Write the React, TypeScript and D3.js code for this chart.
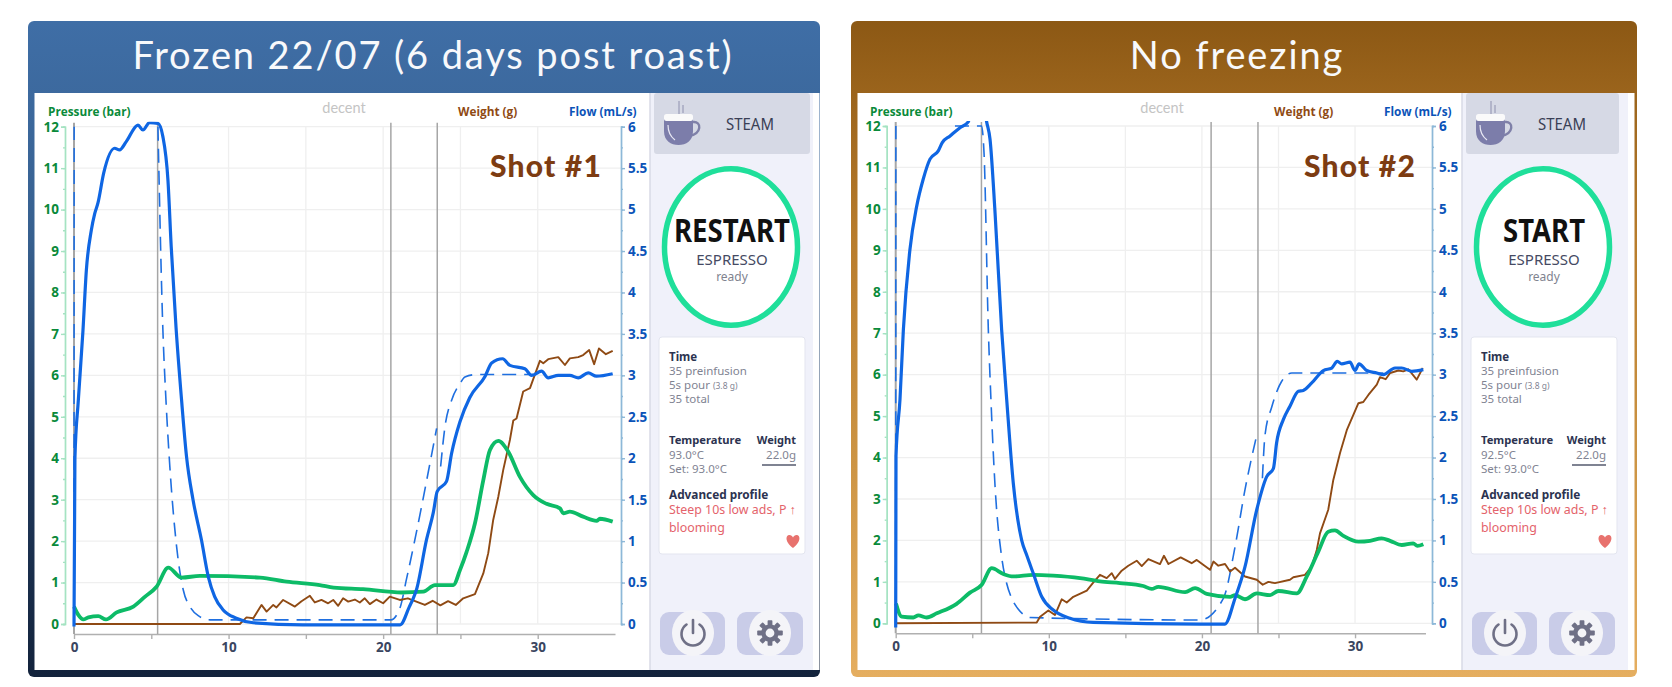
import * as d3 from 'd3';
import React, { useEffect, useRef } from 'react';

type Pt = [number, number | null];

const pressureTicks = d3.range(0, 13);
const flowTicks = d3.range(0, 6.5, 0.5);
const timeLabels = [0, 10, 20, 30];
const timeTicks = [0, 5, 10, 15, 20, 25, 30];
const timeGrid = [10, 15, 20, 25, 30];

const flow1: Pt[] = [[0,-0.03],[0.06,2],[0.28,2.7],[0.58,3.54],[0.8,4.27],[1.12,4.75],[1.34,4.95],[1.55,5.08],[1.92,5.44],[2.63,5.74],[2.95,5.72],[3.38,5.82],[4.14,6.02],[4.46,5.96],[4.89,6.05],[5.43,6.04],[5.75,5.88],[6.08,5.35],[6.29,4.55],[6.6,3.58],[6.96,2.7],[7.28,2.02],[7.7,1.5],[8.25,1.01],[8.69,0.57],[9.1,0.33],[9.65,0.17],[10.5,0.07],[11.6,0.015],[14.8,-0.01],[21.1,-0.01],[21.7,0.21],[21.95,0.31],[22.15,0.41],[22.81,1.02],[23.24,1.34],[23.5,1.6],[24.1,1.72],[24.43,2.06],[24.97,2.44],[25.6,2.73],[26.6,2.99],[27.02,3.15],[27.73,3.2],[28.2,3.12],[29.17,3.08],[29.6,3.0],[30.25,3.05],[30.68,2.97],[31.33,3.0],[32.08,3.0],[32.62,2.97],[33.27,3.03],[33.8,2.99],[34.85,3.02]];
const goal1: Pt[] = [[0,0],[0.01,6],[0.02,null],[5.43,6],[5.75,3.55],[5.95,2.7],[6.2,1.9],[6.64,0.93],[7.07,0.41],[7.5,0.21],[8.04,0.1],[8.8,0.05],[11.6,0.05],[20.5,0.05],[21.08,0.19],[21.52,0.55],[23.46,2.36],[23.47,null],[23.72,1.9],[24,2.38],[24.43,2.7],[24.97,2.9],[25.29,2.98],[26.05,3.01],[29.71,3.01]];
const pressure1: Pt[] = [[0,0.42],[0.28,0.22],[0.6,0.11],[0.93,0.16],[1.57,0.19],[2.07,0.11],[2.76,0.28],[3.84,0.42],[4.6,0.66],[5.34,0.9],[6.1,1.36],[6.96,1.12],[8.15,1.16],[12.03,1.12],[13.75,1.02],[15.9,0.94],[16.8,0.88],[18.7,0.84],[21.2,0.76],[22.6,0.78],[23.35,0.94],[24.54,0.94],[24.97,1.3],[25.4,1.74],[25.94,2.43],[26.48,3.47],[26.91,4.2],[27.45,4.42],[28.09,4.16],[28.85,3.55],[29.71,3.11],[30.57,2.9],[31.44,2.79],[31.65,2.67],[32.08,2.71],[32.94,2.59],[33.81,2.49],[34.02,2.54],[34.85,2.47]];
// weight has no axis of its own, values are read against the pressure scale
const weight1: Pt[] = [[0,0],[10.73,0],[11.16,0.16],[11.6,0.14],[12.13,0.46],[12.46,0.3],[12.89,0.46],[13.1,0.4],[13.53,0.58],[14.29,0.42],[14.72,0.55],[15.26,0.68],[15.58,0.52],[16.01,0.58],[16.44,0.5],[16.77,0.58],[17.09,0.44],[17.41,0.62],[17.74,0.54],[18.17,0.59],[18.49,0.52],[18.81,0.62],[19.14,0.48],[19.57,0.59],[20,0.5],[20.43,0.66],[21.08,0.58],[21.6,0.62],[22.15,0.54],[22.7,0.46],[23.2,0.56],[23.7,0.45],[24.2,0.55],[24.7,0.46],[25.18,0.62],[25.94,0.72],[26.48,1.22],[26.8,1.71],[27.12,2.51],[27.45,3.07],[27.77,3.72],[28.2,4.44],[28.42,4.91],[28.63,4.96],[29.06,5.61],[29.5,5.69],[30.14,6.35],[30.36,6.29],[30.68,6.39],[31.33,6.44],[31.76,6.25],[32.08,6.41],[32.62,6.44],[32.94,6.49],[33.33,6.61],[33.65,6.27],[33.96,6.65],[34.41,6.51],[34.85,6.59]];

const flow2: Pt[] = [[0,-0.05],[0.02,2.02],[0.28,2.7],[0.5,3.54],[0.93,4.51],[1.37,5.03],[1.8,5.36],[2.24,5.6],[2.78,5.7],[3.04,5.8],[3.55,5.88],[4.2,5.98],[4.74,6.05],[5.2,6.4],[5.6,6.4],[5.94,6.05],[6.16,5.84],[6.49,4.95],[6.92,3.54],[7.25,2.7],[7.68,1.69],[8.23,1.0],[8.56,0.82],[8.99,0.6],[9.54,0.32],[10.29,0.16],[11.38,0.06],[12.9,0.01],[19.88,-0.01],[21.5,-0.01],[22.16,0.3],[22.81,0.68],[23.58,1.37],[24.23,1.77],[24.67,1.87],[24.88,2.18],[25.32,2.46],[25.75,2.62],[26.3,2.8],[26.62,2.81],[27.17,2.9],[27.93,3.05],[28.48,3.08],[28.84,3.16],[29.13,3.13],[29.67,3.15],[30,3.05],[30.26,3.13],[30.76,3.05],[31.42,3.02],[31.85,3.0],[32.61,3.08],[33.05,3.08],[33.7,3.04],[34.46,3.06]];
const goal2: Pt[] = [[0,0],[0.01,6],[0.02,null],[3.87,6],[5.6,6],[5.77,5.67],[6.05,3.54],[6.22,2.7],[6.49,1.65],[6.92,0.8],[7.25,0.48],[7.58,0.3],[8.01,0.17],[8.77,0.07],[19.88,0.04],[21.4,0.3],[22.16,0.92],[22.81,1.61],[23.58,2.27],[23.59,null],[23.95,1.75],[24.12,2.27],[24.56,2.61],[25.21,2.92],[25.87,3.02],[31.85,3.02]];
const pressure2: Pt[] = [[0.02,0.48],[0.39,0.16],[1.15,0.14],[1.48,0.19],[2.02,0.14],[2.68,0.24],[3.98,0.47],[4.85,0.74],[5.62,0.93],[6.27,1.33],[7.03,1.19],[7.68,1.13],[8.99,1.17],[10.29,1.15],[12.04,1.09],[13.34,1.01],[14.65,0.97],[16.17,0.9],[16.72,0.83],[17.15,0.88],[18.9,0.75],[19.55,0.85],[20.31,0.71],[21.84,0.64],[22.16,0.68],[22.81,0.58],[23.58,0.72],[24.45,0.68],[24.99,0.78],[26.19,0.72],[26.85,1.13],[27.6,1.73],[28.25,2.21],[28.69,2.24],[29.24,2.11],[30.22,1.97],[30.98,1.99],[31.74,2.05],[32.29,1.99],[33.05,1.89],[33.8,1.93],[34.07,1.87],[34.46,1.91]];
const weight2: Pt[] = [[0,0],[9.21,0.02],[9.43,0.16],[9.97,0.31],[10.4,0.2],[10.84,0.58],[11.17,0.5],[11.6,0.64],[12.48,0.79],[12.9,0.98],[13.34,1.17],[13.78,1.09],[14.11,1.21],[14.32,1.07],[14.76,1.27],[15.19,1.39],[15.74,1.51],[16.07,1.38],[16.5,1.55],[17.26,1.43],[17.52,1.63],[17.81,1.43],[18.61,1.59],[19.33,1.45],[19.66,1.53],[20.53,1.29],[20.75,1.49],[21.07,1.39],[21.51,1.43],[21.84,1.25],[22.16,1.34],[22.81,1.13],[23.58,1.05],[23.97,0.93],[24.34,1],[24.77,0.97],[25.75,1.05],[25.97,1.11],[26.73,1.17],[27.17,1.37],[27.5,1.77],[27.71,2.17],[28.25,2.74],[28.58,3.46],[29.02,4.11],[29.46,4.66],[30.22,5.31],[30.54,5.34],[30.87,5.51],[31.42,5.76],[31.63,5.94],[32,5.89],[32.29,6.04],[32.83,6.1],[33.15,6.08],[33.48,6.13],[34.03,5.88],[34.42,6.16]];

const cupPath = 'M-17 -12 H12 V2 C12 12 5 16 -2.5 16 C-10 16 -17 12 -17 2 Z';

function Axis({ make, line, text }: { make: () => d3.Axis<any>; line: string; text: string }) {
  const ref = useRef<SVGGElement>(null);
  useEffect(() => {
    const g = d3.select(ref.current as SVGGElement);
    g.call(make());
    g.selectAll('.domain, line').attr('stroke', line).attr('stroke-width', 1.4);
    g.selectAll('text')
      .attr('font-family', "'Open Sans', sans-serif")
      .attr('font-weight', 700)
      .attr('font-size', 13.5)
      .attr('fill', text);
  });
  return <g ref={ref} />;
}

interface ChartProps {
  id: string;
  x0: number;
  xEnd: number;
  axisEnd: number;
  yTop: number;
  yBot: number;
  leftX: number;
  rightX: number;
  flow: Pt[];
  goal: Pt[];
  pressure: Pt[];
  weight: Pt[];
  marks: number[];
  shot: string;
  shotRight: number;
  labelX: { pressure: number; decent: number; weight: number; flow: number };
}

function ShotChart(p: ChartProps) {
  const x = d3.scaleLinear().domain([0, 35]).range([p.x0, p.xEnd]);
  const xAxis = d3.scaleLinear().domain([0, p.axisEnd]).range([p.x0, x(p.axisEnd)]);
  const yP = d3.scaleLinear().domain([0, 12]).range([p.yBot, p.yTop]);
  const yF = d3.scaleLinear().domain([0, 6]).range([p.yBot, p.yTop]);
  const axisY = p.yBot + 10;

  const flowLine = d3.line<Pt>().defined((d) => d[1] !== null).x((d) => x(d[0])).y((d) => yF(d[1] as number));
  const barLine = d3.line<Pt>().defined((d) => d[1] !== null).x((d) => x(d[0])).y((d) => yP(d[1] as number));
  const smooth = d3.curveMonotoneX;

  return (
    <g>
      <defs>
        <clipPath id={p.id}>
          <rect x={p.x0 - 4} y={yP(12.12)} width={p.xEnd - p.x0 + 8} height={p.yBot - p.yTop + 30} />
        </clipPath>
      </defs>

      {pressureTicks.map((t) => (
        <line key={t} x1={p.x0} x2={p.rightX} y1={yP(t)} y2={yP(t)} stroke="#efefef" strokeWidth={1.3} />
      ))}
      {timeGrid.map((t) => (
        <line key={t} x1={x(t)} x2={x(t)} y1={p.yTop} y2={p.yBot} stroke="#efefef" strokeWidth={1.3} />
      ))}

      <g transform={`translate(${p.leftX},0)`}>
        <Axis line="#a5e3c2" text="#0a8a3a" make={() => d3.axisLeft(yP).tickValues(d3.range(0, 12.5, 0.5)).tickSize(2).tickFormat(() => '')} />
        <Axis line="#a5e3c2" text="#0a8a3a" make={() => d3.axisLeft(yP).tickValues(pressureTicks).tickSize(4).tickPadding(2).tickFormat((d) => String(d))} />
      </g>
      <g transform={`translate(${p.rightX},0)`}>
        <Axis line="#8db8d8" text="#0b53b8" make={() => d3.axisRight(yF).tickValues(d3.range(0, 6.25, 0.25)).tickSize(2).tickFormat(() => '')} />
        <Axis line="#8db8d8" text="#0b53b8" make={() => d3.axisRight(yF).tickValues(flowTicks).tickSize(4).tickPadding(3).tickFormat((d) => String(d))} />
      </g>
      <g transform={`translate(0,${axisY})`}>
        <Axis line="#b0b0b0" text="#3a4560" make={() => d3.axisBottom(xAxis).tickValues(timeTicks).tickSize(5).tickSizeOuter(0).tickFormat((d) => (timeLabels.includes(d as number) ? String(d) : ''))} />
      </g>

      {p.marks.map((t) => (
        <line key={t} x1={x(t)} x2={x(t)} y1={p.yTop - 4} y2={axisY} stroke="#a6a6a6" strokeWidth={t === 0 ? 2 : 1.5} />
      ))}

      <g clipPath={`url(#${p.id})`} fill="none" strokeLinejoin="round">
        <path d={flowLine.curve(smooth)(p.goal) as string} stroke="#1f6fe0" strokeWidth={1.6} strokeDasharray="14 8" />
        <path d={barLine.curve(d3.curveLinear)(p.weight) as string} stroke="#8f4a14" strokeWidth={1.9} />
        <path d={barLine.curve(smooth)(p.pressure) as string} stroke="#0dbb67" strokeWidth={3.8} />
        <path d={flowLine.curve(smooth)(p.flow) as string} stroke="#0f66e3" strokeWidth={3.2} />
      </g>

      <g fontFamily="'Open Sans', sans-serif" fontSize={11.8} fontWeight={700}>
        <text x={p.labelX.pressure} y={116} fill="#0a8a3a">Pressure (bar)</text>
        <text x={p.labelX.weight} y={116} fill="#8f4a14">Weight (g)</text>
        <text x={p.labelX.flow} y={116} fill="#0b53b8">Flow (mL/s)</text>
      </g>
      <text x={p.labelX.decent} y={113} textAnchor="middle" fontFamily="Lato, sans-serif" fontSize={14.5} fill="#c4c4c4">decent</text>
      <text x={p.shotRight} y={177} textAnchor="end" fontFamily="Lato, sans-serif" fontWeight={900} fontSize={30} letterSpacing={1.2} fill="#7d3c12">{p.shot}</text>
    </g>
  );
}

function gearTeeth() {
  return d3.range(0, 360, 45).map((a) => (
    <rect key={a} x={-2.4} y={-12.8} width={4.8} height={5} rx={0.8} fill="#6f7086" transform={`rotate(${a})`} />
  ));
}

interface SideProps {
  left: number;
  right: number;
  steamWidth: number;
  action: string;
  temp: string;
  actionWidth: number;
  weightRight: number;
}

function SidePanel({ left, right, steamWidth, action, temp, actionWidth, weightRight }: SideProps) {
  const cx = left + 81;
  const ink = '#2c3350';
  const soft = '#7f8392';
  const red = '#e4636b';
  return (
    <g fontFamily="'Noto Sans', sans-serif">
      <rect x={left} y={93} width={right - left} height={577} fill="#f0f1fa" />
      <line x1={left} x2={left} y1={93} y2={670} stroke="#d8dae6" strokeWidth={1.5} />

      <rect x={left + 4} y={93} width={steamWidth} height={61} rx={3} fill="#d6d9e5" />
      <g transform={`translate(${left + 31},129)`}>
        <path d="M-2 -15 V-28 M2 -16 V-24" stroke="#8e90ae" strokeWidth={1} fill="none" />
        <path d="M12 -7 C21 -8 21 5 8 7" stroke="#7f80a8" strokeWidth={2.4} fill="none" />
        <path d={cupPath} fill="#7c7daa" />
        <rect x={-17} y={-15} width={29} height={7} rx={2.5} fill="#fafafa" />
        <path d="M-13 -4 C-13 3 -10 8 -6 11" stroke="#e8e8f4" strokeWidth={1.2} fill="none" />
      </g>
      <text x={left + 100} y={130} textAnchor="middle" fontSize={16} fill="#3a3f55" textLength={48} lengthAdjust="spacingAndGlyphs">STEAM</text>

      <ellipse cx={cx} cy={247} rx={66.5} ry={78.3} fill="#fff" stroke="#1fdf9a" strokeWidth={5.5} />
      <text x={cx + 1} y={242} textAnchor="middle" fontSize={32} fontWeight={700} fill="#111" textLength={actionWidth} lengthAdjust="spacingAndGlyphs">{action}</text>
      <text x={cx + 1} y={265} textAnchor="middle" fontSize={15} fill="#454a63">ESPRESSO</text>
      <text x={cx + 1} y={281} textAnchor="middle" fontSize={12} fill="#80838f">ready</text>

      <rect x={left + 9} y={337} width={146} height={217} rx={3} fill="#fff" stroke="#e3e5ef" />
      <g fontSize={11.5} fill={soft}>
        <text x={left + 19} y={361} fontWeight={700} fill={ink}>Time</text>
        <text x={left + 19} y={375}>35 preinfusion</text>
        <text x={left + 19} y={389}>5s pour <tspan fontSize={8.5}>(3.8 g)</tspan></text>
        <text x={left + 19} y={403}>35 total</text>
        <text x={left + 19} y={444} fontWeight={700} fontSize={11.2} fill={ink}>Temperature</text>
        <text x={left + 19} y={459}>{temp}</text>
        <text x={left + 19} y={473}>Set: 93.0°C</text>
        <text x={weightRight} y={444} textAnchor="end" fontWeight={700} fontSize={11} fill={ink}>Weight</text>
        <text x={weightRight} y={459} textAnchor="end">22.0g</text>
        <text x={left + 19} y={499} fontWeight={700} fontSize={11.8} fill={ink}>Advanced profile</text>
        <text x={left + 19} y={514} fontSize={12.4} fill={red}>Steep 10s low ads, P ↑</text>
        <text x={left + 19} y={532} fontSize={12.4} fill={red}>blooming</text>
      </g>
      <line x1={weightRight - 34} x2={weightRight} y1={465} y2={465} stroke="#555a6e" strokeWidth={1.6} />
      <path transform={`translate(${left + 143},541)`} d="M0 7 C-9 0 -7 -6 -3.5 -6 C-2 -6 -0.6 -5 0 -3.5 C0.6 -5 2 -6 3.5 -6 C7 -6 9 0 0 7 Z" fill="#e8726e" />

      <rect x={left + 10} y={612} width={65} height={43} rx={9} fill="#c9cce8" />
      <rect x={left + 87} y={612} width={66} height={43} rx={9} fill="#c9cce8" />
      <ellipse cx={left + 43} cy={633} rx={21} ry={23} fill="#f4f4f8" />
      <ellipse cx={left + 120} cy={633} rx={21} ry={23} fill="#f4f4f8" />
      <g transform={`translate(${left + 43},634)`} fill="none" stroke="#6f7086" strokeWidth={2.6} strokeLinecap="round">
        <path d="M-6.5 -9.5 A11.5 11.5 0 1 0 6.5 -9.5" />
        <path d="M0 -14 V-1" />
      </g>
      <g transform={`translate(${left + 120},633)`}>
        {gearTeeth()}
        <circle r={6.6} fill="none" stroke="#6f7086" strokeWidth={4.4} />
      </g>
    </g>
  );
}

function Card({ x, w, inner, id, stops, title, titleX }: { x: number; w: number; inner: number; id: string; stops: string[]; title: string; titleX: number }) {
  return (
    <g>
      <defs>
        <linearGradient id={id} x1="0" x2="0" y1="0" y2="1">
          {stops.map((c, i) => <stop key={c} offset={i / (stops.length - 1)} stopColor={c} />)}
        </linearGradient>
      </defs>
      <rect x={x} y={21} width={w} height={656} rx={6} fill={`url(#${id})`} />
      <rect x={x + 6.5} y={93} width={inner} height={577} fill="#fff" />
      <text x={titleX} y={69} textAnchor="middle" fontFamily="Lato, sans-serif" fontSize={38} letterSpacing={1.9} fill="#f8f9fb">{title}</text>
    </g>
  );
}

export default function App() {
  return (
    <svg width={1672} height={687} style={{ position: 'absolute', left: 0, top: 0, background: '#fff' }}>
      <Card x={28} w={792} inner={785} id="cardBlue" stops={['#3f6ea6', '#37608f', '#20395c', '#13233c']} title="Frozen 22/07 (6 days post roast)" titleX={433} />
      <Card x={851} w={786} inner={777} id="cardBrown" stops={['#8c5814', '#b87c2c', '#cc9444', '#e5ae60']} title="No freezing" titleX={1237} />

      <ShotChart
        id="clipA" x0={74} xEnd={615} axisEnd={35} yTop={126.7} yBot={624} leftX={65} rightX={621}
        flow={flow1} goal={goal1} pressure={pressure1} weight={weight1}
        marks={[0, 5.41, 20.5, 23.5]} shot="Shot #1" shotRight={602}
        labelX={{ pressure: 48, decent: 344, weight: 458, flow: 569 }}
      />
      <SidePanel left={650} right={813} steamWidth={156} action="RESTART" temp="93.0°C" actionWidth={116} weightRight={796} />

      <ShotChart
        id="clipB" x0={895.7} xEnd={1431.6} axisEnd={34.6} yTop={126} yBot={623.3} leftX={886.7} rightX={1432}
        flow={flow2} goal={goal2} pressure={pressure2} weight={weight2}
        marks={[0, 5.6, 20.6, 23.66]} shot="Shot #2" shotRight={1416}
        labelX={{ pressure: 870, decent: 1162, weight: 1274, flow: 1384 }}
      />
      <SidePanel left={1462} right={1628} steamWidth={153} action="START" temp="92.5°C" actionWidth={82} weightRight={1606} />
    </svg>
  );
}
